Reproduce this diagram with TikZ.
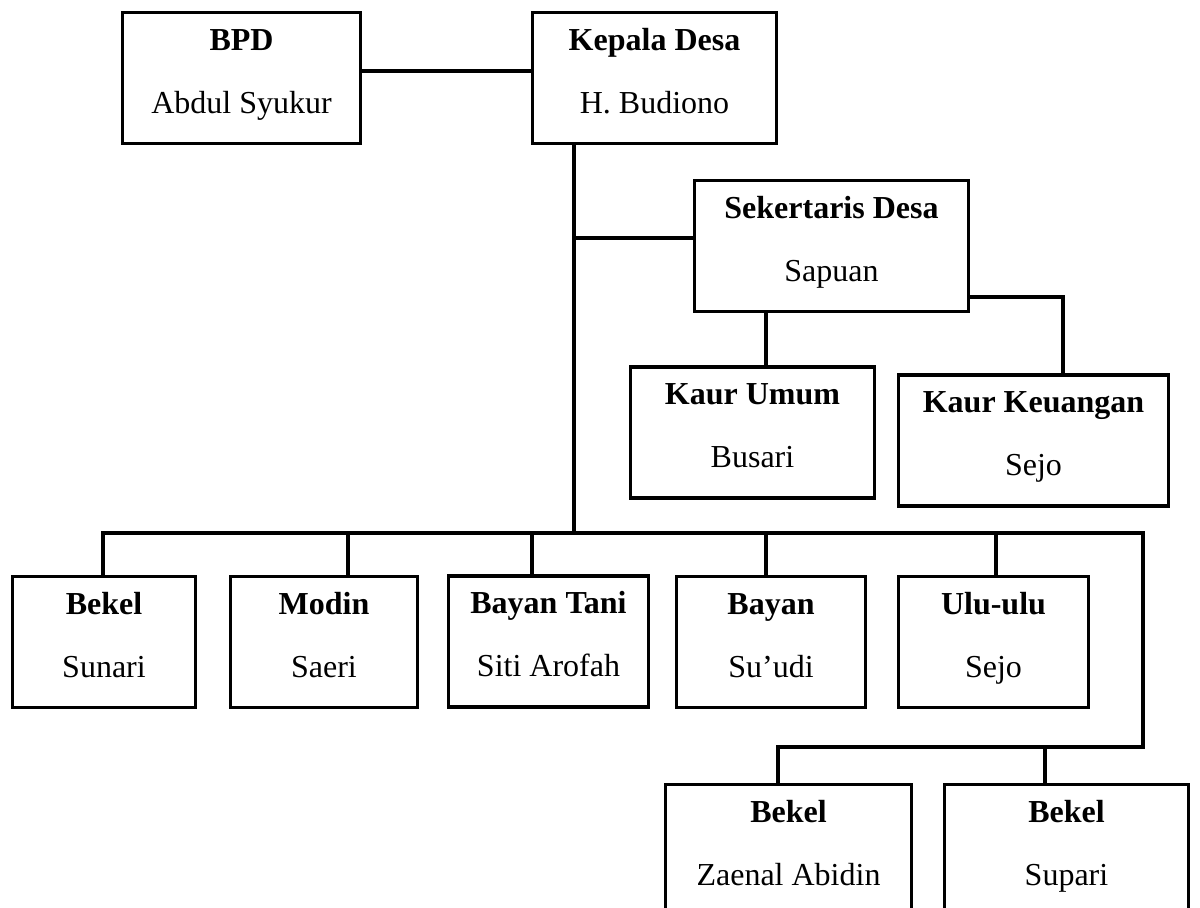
\documentclass[tikz,border=0pt]{standalone}
\usepackage{fontspec}
\setmainfont{Liberation Serif}
\usetikzlibrary{calc}
\tikzset{
  orgbox/.style={draw=black, line width=1.6pt, minimum height=65.5pt, inner sep=0pt},
  conn/.style={draw=black, line width=1.6pt},
  ttl/.style={anchor=base, font=\fontsize{16}{19}\selectfont\bfseries, inner sep=0pt},
  prs/.style={anchor=base, font=\fontsize{16}{19}\selectfont, inner sep=0pt},
}
\newcommand\orgunit[6]{%
  \node[orgbox, minimum width=#4] (#1) at (#2,#3) {};
  \node[ttl] (#1-t) at ($(#1.north)+(0,39.5)$) {#5};
  \node[prs] (#1-p) at ($(#1.north)+(0,102.5)$) {#6};
}
\begin{document}
\begin{tikzpicture}[x=0.5pt,y=-0.5pt]
\clip (0,0) rectangle (1200,908);
\fill[white] (0,0) rectangle (1200,908);

\orgunit{bpd}{241.5}{78}{119pt}{BPD}{Abdul Syukur}
\orgunit{kepala}{654.5}{78}{122pt}{Kepala Desa}{H. Budiono}
\orgunit{sek}{831.5}{246}{137pt}{Sekertaris Desa}{Sapuan}
\orgunit{kum}{752.5}{432.5}{122pt}{Kaur Umum}{Busari}
\orgunit{keu}{1033.5}{440.5}{135pt}{Kaur Keuangan}{Sejo}
\orgunit{bekel}{104}{642}{91.5pt}{Bekel}{Sunari}
\orgunit{modin}{324}{642}{93.5pt}{Modin}{Saeri}
\orgunit{btani}{548.5}{641.5}{100pt}{Bayan Tani}{Siti Arofah}
\orgunit{bayan}{771}{642}{94.5pt}{Bayan}{Su’udi}
\orgunit{ulu}{993.5}{642}{95pt}{Ulu-ulu}{Sejo}
\orgunit{zaenal}{788.5}{850}{123pt}{Bekel}{Zaenal Abidin}
\orgunit{supari}{1066.5}{850}{122pt}{Bekel}{Supari}

% coordinates of connector bends
\coordinate (trunk) at (574,533);
\coordinate (kx) at (766,0);
\coordinate (ky) at (1063,297);
\coordinate (busL) at (103,533);
\coordinate (busR) at (1143,533);
\coordinate (bus2R) at (1143,747);
\coordinate (bus2L) at (778,747);
\coordinate (d2) at (348,533);
\coordinate (d3) at (532,533);
\coordinate (d4) at (766,533);
\coordinate (d5) at (996,533);
\coordinate (d7) at (1045,747);

\draw[conn] ([yshift=3.5pt]bpd.east) -- ([yshift=3.5pt]kepala.west);
\draw[conn] (kepala.south -| trunk) -- (trunk);
\draw[conn] ([yshift=4pt]sek.west) -- ([yshift=4pt]sek.west -| trunk);
\draw[conn] (sek.south -| kx) -- (kum.north -| kx);
\draw[conn] (sek.east |- ky) -- (ky) -- (keu.north -| ky);
\draw[conn] (bekel.north -| busL) -- (busL) -- (busR) -- (bus2R) -- (bus2L) -- (zaenal.north -| bus2L);
\draw[conn] (modin.north -| d2) -- (d2);
\draw[conn] (btani.north -| d3) -- (d3);
\draw[conn] (bayan.north -| d4) -- (d4);
\draw[conn] (ulu.north -| d5) -- (d5);
\draw[conn] (supari.north -| d7) -- (d7);
\end{tikzpicture}
\end{document}
